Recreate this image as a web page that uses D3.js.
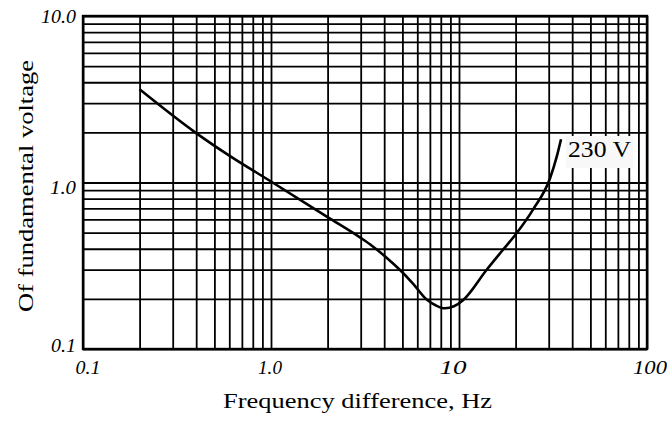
<!DOCTYPE html>
<html><head><meta charset="utf-8">
<script src="https://cdn.jsdelivr.net/npm/d3@7"></script>
<style>
html,body{margin:0;padding:0;background:#fff;}
svg text{font-family:"Liberation Serif","Times New Roman",Times,serif;}
</style></head>
<body><svg id="c" width="667" height="423"></svg>
<script>
// ---- data ----
const seriesName = "230 V";
const freq  = [0.2, 0.4, 0.6, 1.02, 2.0, 3.0, 3.44, 4.09, 4.86, 5.69, 6.73, 7.55, 8.42, 9.4, 10.54, 14.0, 17.1, 19.9, 24.8, 30.5, 33.1, 34.9];
const ratio = [3.63, 1.98, 1.45, 1.0, 0.62, 0.465, 0.417, 0.356, 0.298, 0.247, 0.198, 0.1825, 0.1756, 0.1805, 0.197, 0.298, 0.393, 0.484, 0.69, 1.06, 1.43, 1.82];
const xTicks = [0.1, 1, 10, 100];
const xTickLabels = ["0.1", "1.0", "10", "100"];
const yTicks = [0.1, 1, 10];
const yTickLabels = ["0.1", "1.0", "10.0"];
const xTitle = "Frequency difference, Hz";
const yTitle = "Of fundamental voltage";

// ---- layout ----
const FONT = "'Liberation Serif','Times New Roman',Times,serif";
const L = 83, R = 647, T = 16, B = 349;
const svg = d3.select("#c");
const x = d3.scaleLog().domain([0.1, 100]).range([L, R]);
const y = d3.scaleLog().domain([0.1, 10]).range([B, T]);

const gridX = [], gridY = [];
[0.1, 1, 10].forEach(d => { for (let k = 1; k <= 9; k++) gridX.push(d * k); });
gridX.push(100);
[0.1, 1].forEach(d => { for (let k = 1; k <= 9; k++) gridY.push(d * k); });
gridY.push(10);

// grid via axes
const gx = svg.append("g").attr("transform", `translate(0,${B})`)
  .call(d3.axisBottom(x).tickValues(gridX).tickSize(-(B - T)).tickFormat(""));
const gy = svg.append("g").attr("transform", `translate(${L},0)`)
  .call(d3.axisLeft(y).tickValues(gridY).tickSize(-(R - L)).tickFormat(""));
[gx, gy].forEach(g => {
  g.select(".domain").remove();
  g.selectAll("line").attr("stroke", "#000").attr("stroke-width", 1.8);
});

// frame
svg.append("rect").attr("x", L).attr("y", T).attr("width", R - L).attr("height", B - T)
  .attr("fill", "none").attr("stroke", "#000").attr("stroke-width", 2.4);

// curve
const pts = freq.map((f, i) => [x(f), y(ratio[i])]);
svg.append("path").attr("d", d3.line().curve(d3.curveMonotoneX)(pts))
  .attr("fill", "none").attr("stroke", "#000").attr("stroke-width", 2.6)
  .attr("stroke-linecap", "butt");

// series label
svg.append("rect").attr("x", 566).attr("y", 136).attr("width", 67).attr("height", 32)
  .attr("fill", "#f8f8f8");
svg.append("text").attr("x", 568).attr("y", 157).attr("font-size", 24)
  .attr("font-family", FONT)
  .attr("textLength", 63).attr("lengthAdjust", "spacingAndGlyphs")
  .text(seriesName);

// y tick labels
const yDy = [3, 11, 7];
const yW = [25, 26, 35];
svg.append("g").selectAll("text").data(yTicks).join("text")
  .attr("x", 76).attr("y", (d, i) => y(d) + yDy[i])
  .attr("text-anchor", "end").attr("font-style", "italic").attr("font-size", 18)
  .attr("font-family", FONT)
  .attr("textLength", (d, i) => yW[i]).attr("lengthAdjust", "spacingAndGlyphs")
  .text((d, i) => yTickLabels[i]);

// x tick labels
const xDx = [5, -1, -6, 3];
const xW = [25, 24, 27, 34];
svg.append("g").selectAll("text").data(xTicks).join("text")
  .attr("x", (d, i) => x(d) + xDx[i]).attr("y", 374)
  .attr("text-anchor", "middle").attr("font-style", "italic").attr("font-size", 18)
  .attr("font-family", FONT)
  .attr("textLength", (d, i) => xW[i]).attr("lengthAdjust", "spacingAndGlyphs")
  .text((d, i) => xTickLabels[i]);

// axis titles
svg.append("text").attr("x", (223 + 492) / 2).attr("y", 408)
  .attr("text-anchor", "middle").attr("font-size", 21)
  .attr("font-family", FONT)
  .attr("textLength", 269).attr("lengthAdjust", "spacingAndGlyphs")
  .text(xTitle);
svg.append("text").attr("transform", "translate(33,186) rotate(-90)")
  .attr("text-anchor", "middle").attr("font-size", 22)
  .attr("font-family", FONT)
  .attr("textLength", 252).attr("lengthAdjust", "spacingAndGlyphs")
  .text(yTitle);
</script></body></html>
